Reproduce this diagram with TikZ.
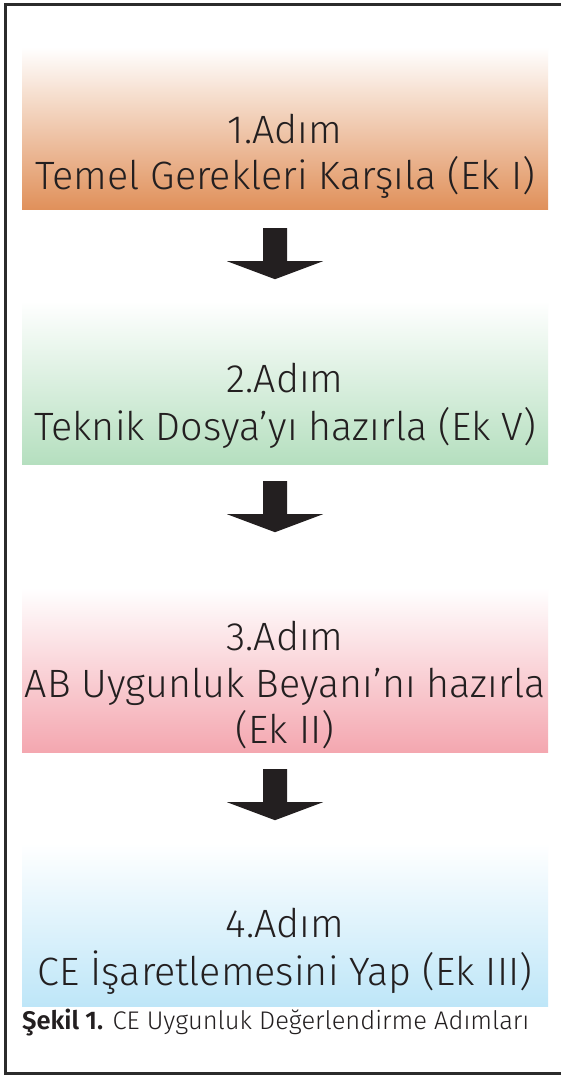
\documentclass[tikz,border=0pt]{standalone}
\usepackage{fontspec}
\IfFontExistsTF{Fira Sans Light}
  {\newfontfamily\dinf[BoldFont={Fira Sans SemiBold}]{Fira Sans Light}}
  {\newfontfamily\dinf{Fira Sans}}
\definecolor{orangeB}{HTML}{E0905A}
\definecolor{greenB}{HTML}{B5DFBF}
\definecolor{pinkB}{HTML}{F4A7B0}
\definecolor{blueB}{HTML}{BEE6F8}
\definecolor{arrowC}{HTML}{231F20}
\definecolor{frameC}{HTML}{2B2B2B}
\definecolor{textC}{HTML}{231F20}
\tikzset{
  stepbox/.style={draw=none, inner sep=0pt, minimum width=526pt, minimum height=163pt, top color=white},
  steptext/.style={anchor=base, inner sep=0pt, text=textC, font=\dinf\fontsize{39.5}{48}\selectfont},
  captext/.style={anchor=base west, inner sep=0pt, text=textC, font=\dinf\fontsize{25.5}{30}\selectfont},
  downarrow/.pic={\fill[arrowC] (-12,0) -- (12,0) -- (12,33) -- (48,33) -- (0,51) -- (-48,33) -- (-12,33) -- cycle;}
}
\begin{document}
\begin{tikzpicture}[x=1pt,y=-1pt]
\useasboundingbox (0,0) rectangle (560,1075);
\fill[white] (0,0) rectangle (560,1075);
\draw[line width=3pt, frameC] (5,4.5) rectangle (600,1073.5);
% boxes
\node[stepbox, bottom color=orangeB] (b1) at (285,128.5) {};
\node[stepbox, bottom color=greenB] (b2) at (285,382.5) {};
\node[stepbox, bottom color=pinkB, minimum height=164pt] (b3) at (285,670) {};
\node[stepbox, bottom color=blueB] (b4) at (285,924.5) {};
% texts
\node[steptext] (t1a) at (285,144) {1.Adım};
\node[steptext] (t1b) at (285,190) {Temel Gerekleri Karşıla (Ek I)};
\node[steptext] (t2a) at (285,392) {2.Adım};
\node[steptext] (t2b) at (285,440) {Teknik Dosya’yı hazırla (Ek V)};
\node[steptext] (t3a) at (285,650) {3.Adım};
\node[steptext] (t3b) at (285,697) {AB Uygunluk Beyanı’nı hazırla};
\node[steptext] (t3c) at (285,743) {(Ek II)};
\node[steptext] (t4a) at (285,937) {4.Adım};
\node[steptext] (t4b) at (285,985) {CE İşaretlemesini Yap (Ek III)};
% arrows
\pic at ([xshift=-10pt,yshift=-18pt]b1.south) {downarrow};
\pic at ([xshift=-10pt,yshift=-17pt]b2.south) {downarrow};
\pic at ([xshift=-10pt,yshift=-17pt]b3.south) {downarrow};
% caption
\node[captext] (cap) at (22,1029) {\textbf{Şekil 1.} CE Uygunluk Değerlendirme Adımları};
\end{tikzpicture}
\end{document}
